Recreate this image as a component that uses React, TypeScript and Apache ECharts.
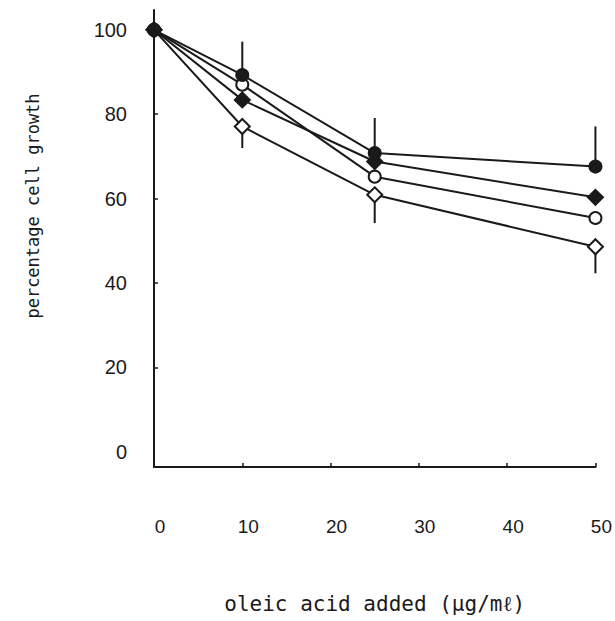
import React, { useEffect, useRef } from "react";
import * as echarts from "echarts";

// Oleic acid dose (µg/ml) and percentage cell growth for four cell lines
const doses = [0, 10, 25, 50];
const filledCircle = [100, 89.3, 70.8, 67.6];
const filledDiamond = [100, 83.4, 68.8, 60.3];
const openCircle = [100, 87.0, 65.2, 55.4];
const openDiamond = [100, 77.1, 60.9, 48.6];

// One-sided error bars: upward on the top curve, downward on the bottom curve
const errDoses = [10, 25, 50];
const filledCircleErrTop = [97.2, 79.1, 77.1];
const openDiamondErrBottom = [72.0, 54.2, 42.3];

const xTickLabels = [0, 10, 20, 30, 40, 50];
const yTickLabels = [0, 20, 40, 60, 80, 100];

const INK = "#1a1a1a";

function pairs(values: number[]) {
  return doses.map((d, i) => [d, values[i]]);
}

function lineSeries(name: string, values: number[], symbol: string, size: number, fill: string) {
  return {
    name,
    type: "line",
    data: pairs(values),
    symbol,
    symbolSize: size,
    z: 3,
    lineStyle: { color: INK, width: 2 },
    itemStyle: { color: fill, borderColor: INK, borderWidth: 2 },
  };
}

function errorSeries(name: string, base: number[], ends: number[]) {
  const data = errDoses.map((d, i) => [d, base[doses.indexOf(d)], ends[i]]);
  return {
    name,
    type: "custom",
    z: 2,
    data,
    renderItem: (_params: any, api: any) => {
      const p1 = api.coord([api.value(0), api.value(1)]);
      const p2 = api.coord([api.value(0), api.value(2)]);
      return {
        type: "line",
        shape: { x1: p1[0], y1: p1[1], x2: p2[0], y2: p2[1] },
        style: { stroke: INK, lineWidth: 2 },
      };
    },
  };
}

export default function App() {
  const ref = useRef<HTMLDivElement>(null);

  useEffect(() => {
    if (!ref.current) return;
    const chart = echarts.init(ref.current, null, { renderer: "svg" });
    chart.setOption({
      animation: false,
      backgroundColor: "#ffffff",
      grid: { left: 154, right: 12, top: 10, bottom: 154, containLabel: false },
      xAxis: {
        type: "value",
        min: 0,
        max: 50,
        name: "oleic acid added (\u03bcg/m\u2113)",
        nameLocation: "middle",
        nameGap: 126,
        nameTextStyle: { fontFamily: "DejaVu Sans Mono", fontSize: 21, color: INK },
        axisLine: { show: true, onZero: false, lineStyle: { color: INK, width: 2 } },
        axisTick: { show: true, inside: true, length: 4, lineStyle: { color: INK, width: 1.5 }, customValues: [10, 20, 30, 40, 50] },
        axisLabel: {
          customValues: xTickLabels,
          margin: 50,
          fontSize: 19,
          fontFamily: "Liberation Sans",
          color: INK,
          padding: [0, 0, 0, 12],
        },
        splitLine: { show: false },
      },
      yAxis: {
        type: "value",
        min: -3.6,
        max: 104.7,
        axisLine: { show: true, onZero: false, lineStyle: { color: INK, width: 2 } },
        axisTick: { show: true, inside: true, length: 4, lineStyle: { color: INK, width: 1.5 }, customValues: [20, 40, 60, 80] },
        axisLabel: {
          customValues: yTickLabels,
          margin: 27,
          fontSize: 20,
          fontFamily: "Liberation Sans",
          color: INK,
        },
        splitLine: { show: false },
      },
      graphic: [
        {
          type: "text",
          x: 33,
          y: 206,
          rotation: Math.PI / 2,
          style: {
            text: "percentage cell growth",
            fontFamily: "DejaVu Sans Mono",
            fontSize: 17,
            fill: INK,
            align: "center",
            verticalAlign: "middle",
          },
        },
      ],
      series: [
        errorSeries("filled circle error", filledCircle, filledCircleErrTop),
        errorSeries("open diamond error", openDiamond, openDiamondErrBottom),
        lineSeries("open diamond", openDiamond, "diamond", 15, "#ffffff"),
        lineSeries("open circle", openCircle, "circle", 12, "#ffffff"),
        lineSeries("filled diamond", filledDiamond, "diamond", 15, INK),
        lineSeries("filled circle", filledCircle, "circle", 12, INK),
      ],
    });
    return () => chart.dispose();
  }, []);

  return (
    <div
      ref={ref}
      style={{ position: "fixed", left: 0, top: 0, width: 615, height: 621 }}
    />
  );
}
